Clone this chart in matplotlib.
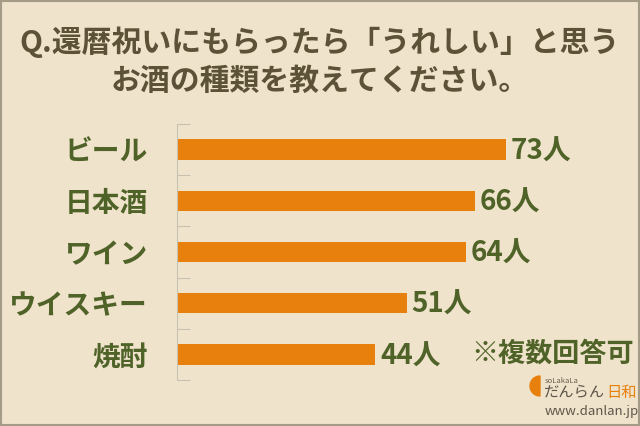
import matplotlib
matplotlib.use("Agg")
import matplotlib.pyplot as plt
from matplotlib.patches import Wedge, Rectangle

plt.rcParams["font.family"] = ["Noto Sans CJK JP", "DejaVu Sans"]

# data
categories = ["ビール", "日本酒", "ワイン", "ウイスキー", "焼酎"]
counts = [73, 66, 64, 51, 44]
value_labels = ["73人", "66人", "64人", "51人", "44人"]
title = "Q.還暦祝いにもらったら「うれしい」と思う\nお酒の種類を教えてください。"

BG = "#efe3cb"
BAR = "#e8800e"
GREEN = "#4f6228"
TITLE_COL = "#5b5237"

W, H = 640, 426
fig = plt.figure(figsize=(W / 100, H / 100), dpi=100)
fig.patch.set_facecolor(BG)

# frame around the picture
fig.add_artist(Rectangle((0.002, 0.002), 0.996, 0.995, transform=fig.transFigure,
                         fill=False, edgecolor="#a59c88", linewidth=1.5))

fig.text(0.5, 1 - 61 / H, title, ha="center", va="center", fontsize=21.5,
         fontweight="bold", color=TITLE_COL, linespacing=1.3)

# axes placed so bars start at x=178px, 4.5px per person
ax_left, ax_right = 177, 177 + 100 * 4.51
ax_top, ax_bottom = 124, 380
ax = fig.add_axes([ax_left / W, 1 - ax_bottom / H, (ax_right - ax_left) / W,
                   (ax_bottom - ax_top) / H])
ax.set_facecolor("none")

y = list(range(len(categories)))
ax.barh(y, counts, height=0.4, color=BAR, zorder=2)
ax.set_xlim(0, 100)
ax.set_ylim(len(categories) - 0.5, -0.5)

ax.set_yticks(y)
ax.set_yticklabels(categories, fontsize=20, fontweight="bold", color=GREEN)
ax.tick_params(axis="y", which="major", length=0, pad=21)
ax.set_yticks([i - 0.5 for i in range(len(categories) + 1)], minor=True)
ax.tick_params(axis="y", which="minor", direction="in", length=9,
               color="#c8c0b0", width=0.8)
ax.set_xticks([])

for s in ["top", "right", "bottom"]:
    ax.spines[s].set_visible(False)
ax.spines["left"].set_color("#c8c0b0")
ax.spines["left"].set_linewidth(0.8)

for yi, c, lab in zip(y, counts, value_labels):
    ax.text(c + 1.0, yi + 0.04, lab, va="center", ha="left", fontsize=20,
            fontweight="bold", color=GREEN)

fig.text(553 / W, 1 - 354 / H, "※複数回答可", ha="center", va="center",
         fontsize=19.5, fontweight="bold", color=GREEN)

# logo
fig.add_artist(Wedge((5.40, (H - 386) / 100), 0.10, 90, 270,
                     transform=fig.dpi_scale_trans, color=BAR))
fig.text(545 / W, 1 - 381 / H, "soLakaLa", fontsize=5.5, color="#6a6050",
         ha="left", va="center")
fig.text(544 / W, 1 - 393 / H, "だんらん", fontsize=11, color="#5e574a",
         style="italic", ha="left", va="center")
fig.text(606 / W, 1 - 393 / H, "日和", fontsize=11, color=BAR,
         ha="left", va="center")
fig.text(545 / W, 1 - 411 / H, "www.danlan.jp", fontsize=9.5, color="#5e574a",
         ha="left", va="center")

fig.savefig("out.png", dpi=100, facecolor=BG)
